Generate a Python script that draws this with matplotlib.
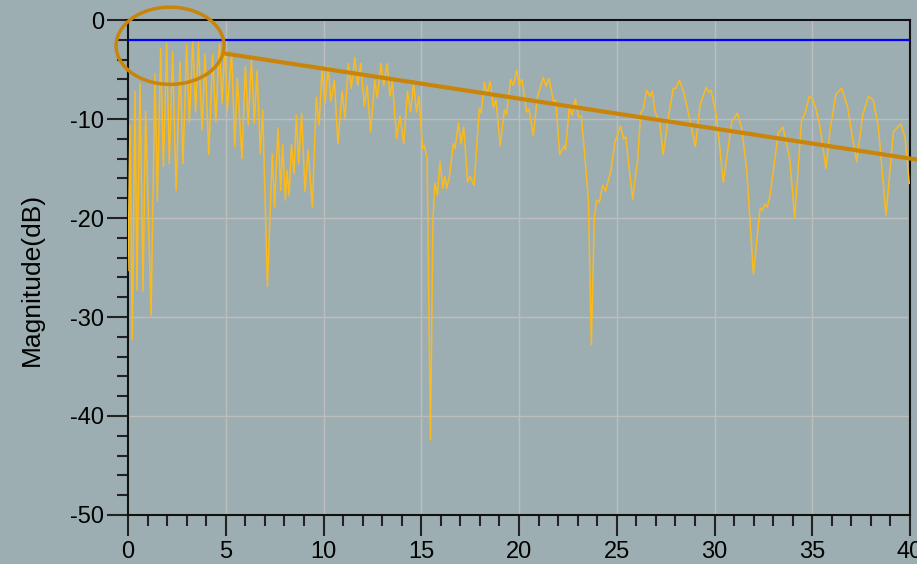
import numpy as np
from matplotlib import pyplot as plt
from matplotlib.patches import Ellipse
from matplotlib.ticker import MultipleLocator

# measured response: frequency points and magnitude in dB
freq = [0.00, 0.10, 0.22, 0.36, 0.46, 0.61, 0.77, 0.90, 1.18, 1.38, 1.50, 1.67, 1.81,
        1.98, 2.11, 2.28, 2.46, 2.66, 2.81, 3.00, 3.14, 3.31, 3.46, 3.60, 3.79, 3.94,
        4.13, 4.33, 4.49, 4.67, 4.81, 4.96, 5.08, 5.30, 5.46, 5.59, 5.83, 6.00, 6.15,
        6.31, 6.46, 6.60, 6.77, 6.89, 7.13, 7.38, 7.50, 7.67, 7.81, 7.91, 8.05, 8.13,
        8.24, 8.36, 8.49, 8.61, 8.73, 8.88, 9.05, 9.21, 9.43, 9.63, 9.77, 9.92, 10.08,
        10.23, 10.38, 10.55, 10.74, 10.95, 11.10, 11.27, 11.42, 11.60, 11.75, 11.90,
        12.09, 12.23, 12.41, 12.62, 12.75, 12.94, 13.08, 13.25, 13.40, 13.52, 13.74,
        13.91, 14.10, 14.30, 14.45, 14.60, 14.76, 14.88, 15.07, 15.16, 15.30, 15.47,
        15.60, 15.70, 15.82, 15.96, 16.10, 16.20, 16.30, 16.44, 16.64, 16.73, 16.90,
        17.03, 17.17, 17.37, 17.49, 17.70, 17.97, 18.06, 18.23, 18.35, 18.52, 18.69,
        18.82, 19.04, 19.25, 19.37, 19.57, 19.71, 19.88, 20.02, 20.15, 20.39, 20.51,
        20.73, 20.94, 21.24, 21.38, 21.53, 21.76, 21.88, 22.08, 22.30, 22.38, 22.57,
        22.71, 22.88, 23.05, 23.19, 23.38, 23.55, 23.70, 23.85, 23.97, 24.11, 24.28,
        24.42, 24.69, 24.91, 25.20, 25.34, 25.46, 25.81, 26.07, 26.22, 26.36, 26.53,
        26.70, 26.82, 26.96, 27.20, 27.37, 27.64, 27.89, 28.02, 28.20, 28.41, 28.61,
        29.02, 29.26, 29.57, 29.70, 29.82, 30.11, 30.45, 30.88, 31.17, 31.39, 31.65,
        31.99, 32.33, 32.46, 32.58, 32.70, 32.84, 33.01, 33.26, 33.49, 33.69, 33.85,
        34.10, 34.45, 34.60, 34.85, 35.05, 35.20, 35.40, 35.70, 35.91, 36.21, 36.51,
        36.81, 37.02, 37.27, 37.58, 37.87, 38.12, 38.38, 38.77, 39.15, 39.52, 39.74,
        39.96]
mag_db = [-25.3, -10.6, -32.3, -7.2, -27.3, -6.4, -27.4, -9.2, -29.9, -5.4, -18.3, -2.9,
          -14.8, -2.4, -14.5, -3.2, -17.2, -4.2, -14.5, -2.5, -10.3, -2.0, -9.3, -2.2,
          -11.1, -3.4, -13.6, -3.5, -10.3, -2.4, -8.4, -2.5, -9.1, -3.3, -12.8, -5.9,
          -14.0, -4.7, -10.6, -4.0, -10.4, -5.1, -13.5, -9.1, -26.9, -13.5, -18.9, -10.9,
          -17.2, -12.6, -18.2, -15.2, -17.7, -12.6, -15.5, -9.6, -14.5, -9.4, -17.3,
          -13.1, -18.9, -7.8, -10.6, -5.1, -8.4, -4.7, -8.2, -6.1, -12.5, -7.2, -9.9,
          -4.4, -6.9, -3.8, -6.6, -4.4, -8.7, -6.6, -11.3, -6.1, -7.9, -4.4, -6.6, -4.4,
          -7.7, -6.2, -12.0, -9.7, -12.5, -7.2, -9.3, -6.4, -9.3, -7.7, -13.0, -12.7,
          -14.0, -42.4, -20.0, -16.5, -17.7, -14.3, -17.0, -15.8, -17.0, -15.8, -12.5,
          -13.0, -10.4, -12.5, -10.8, -16.4, -15.8, -16.7, -8.9, -9.4, -6.3, -7.6, -6.2,
          -8.8, -8.1, -12.7, -9.1, -9.5, -6.0, -6.6, -5.1, -6.6, -6.0, -9.3, -9.0, -11.7,
          -7.8, -5.8, -6.7, -5.9, -8.2, -8.1, -13.6, -12.7, -13.1, -8.9, -9.6, -8.0,
          -9.8, -9.7, -14.1, -18.2, -32.8, -20.0, -18.2, -18.4, -16.7, -17.3, -15.3,
          -12.3, -10.7, -12.0, -11.8, -18.1, -14.1, -9.4, -9.0, -7.1, -7.7, -7.2, -9.3,
          -10.4, -13.6, -9.8, -6.9, -6.9, -6.1, -7.2, -8.9, -12.8, -8.6, -6.8, -7.3,
          -7.1, -9.8, -16.4, -10.3, -9.4, -10.9, -15.2, -25.7, -19.0, -19.2, -18.6,
          -18.9, -17.7, -15.2, -11.4, -10.8, -12.5, -14.1, -20.0, -10.1, -9.6, -7.7,
          -8.1, -9.1, -10.8, -15.0, -11.1, -7.5, -6.9, -8.8, -11.4, -14.3, -9.6, -7.7,
          -8.1, -10.8, -19.7, -11.3, -10.5, -11.8, -16.5]

ref_level = -2.0                       # flat reference line
slope_start = (4.91, -3.37)            # trend line drawn over the peaks
slope_end = (40.36, -14.1)
circle_center = (2.15, -2.6)
circle_size = (5.52, 7.8)

bg = '#9daeb3'
plt.rcParams['font.family'] = ['Liberation Sans', 'DejaVu Sans']
plt.rcParams['axes.unicode_minus'] = False

fig = plt.figure(figsize=(9.17, 5.64), dpi=100, facecolor=bg)
ax = fig.add_axes([0.1396, 0.0869, 0.8528, 0.8776], facecolor=bg)

ax.plot(freq, mag_db, color='#fbba1c', lw=1.1, zorder=3)
ax.axhline(ref_level, color='#0000ff', lw=1.6, zorder=4)

ax.plot([slope_start[0], slope_end[0]], [slope_start[1], slope_end[1]],
        color='#c98509', lw=3, solid_capstyle='butt', clip_on=False, zorder=5)
ax.add_patch(Ellipse(circle_center, circle_size[0], circle_size[1], fill=False,
                     edgecolor='#c98509', lw=2.5, clip_on=False, zorder=5))

ax.set_xlim(0, 40)
ax.set_ylim(-50, 0)
ax.xaxis.set_major_locator(MultipleLocator(5))
ax.xaxis.set_minor_locator(MultipleLocator(1))
ax.yaxis.set_major_locator(MultipleLocator(10))
ax.yaxis.set_minor_locator(MultipleLocator(2))

ax.grid(True, which='major', color='#bdbdbd', lw=1.0, zorder=1)
ax.tick_params(which='major', direction='out', length=15, width=1.5, labelsize=17,
               color='#222222')
ax.tick_params(which='minor', direction='out', length=8, width=1.5, color='#222222')
ax.tick_params(axis='x', pad=4)
ax.tick_params(axis='y', pad=2)
for s in ax.spines.values():
    s.set_linewidth(1.5)
    s.set_color('#111111')

ax.set_ylabel('Magnitude(dB)', fontsize=19)
ax.yaxis.set_label_coords(-0.107, 0.475)

fig.savefig('out.png', dpi=100, facecolor=bg)
